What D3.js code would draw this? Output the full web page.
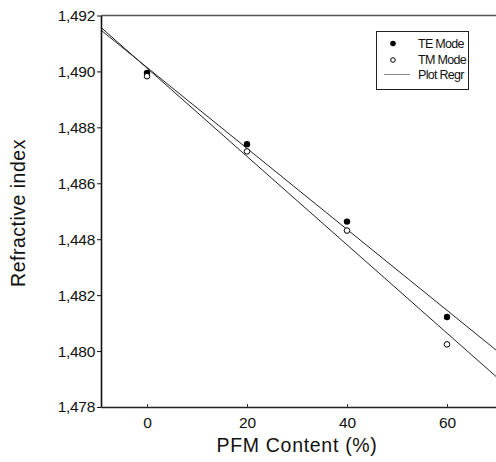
<!DOCTYPE html>
<html><head><meta charset="utf-8">
<script src="https://cdn.jsdelivr.net/npm/d3@7"></script>
<style>
html,body{margin:0;padding:0;background:#fff;}
svg text{font-family:"Liberation Sans",Arial,Helvetica,sans-serif;fill:#111;}
</style></head>
<body><svg id="c" width="496" height="462"></svg>
<script>
const pfm = [0, 20, 40, 60];
const teMode = [1.48995, 1.48740, 1.48463, 1.48122];
const tmMode = [1.48983, 1.48714, 1.48431, 1.48024];
const xTicks = [0, 20, 40, 60];
const yTickValues = [1.478, 1.480, 1.482, 1.484, 1.486, 1.488, 1.490, 1.492];
const yTickLabels = ["1,478", "1,480", "1,482", "1,448", "1,486", "1,488", "1,490", "1,492"];
const legendLabels = ["TE Mode", "TM Mode", "Plot Regr"];

const svg = d3.select("#c");
const x = d3.scaleLinear().domain([-9.2, 70]).range([101, 497]);
const y = d3.scaleLinear().domain([1.478, 1.492]).range([407, 15.5]);

function regress(xs, ys) {
  const mx = d3.mean(xs), my = d3.mean(ys);
  const sxy = d3.sum(xs, (v, i) => (v - mx) * (ys[i] - my));
  const sxx = d3.sum(xs, v => (v - mx) * (v - mx));
  const b = sxy / sxx, a = my - b * mx;
  return v => a + b * v;
}

// regression lines
svg.append("clipPath").attr("id", "pc").append("rect")
  .attr("x", 101).attr("y", 15.5).attr("width", 396).attr("height", 392);
const line = d3.line().x(d => x(d[0])).y(d => y(d[1]));
[teMode, tmMode].forEach(ser => {
  const f = regress(pfm, ser);
  const dom = x.domain();
  svg.append("path").attr("clip-path", "url(#pc)")
    .attr("d", line([[dom[0], f(dom[0])], [dom[1], f(dom[1])]]))
    .attr("fill", "none").attr("stroke", "#222").attr("stroke-width", 1);
});

// top border
svg.append("line").attr("x1", 101).attr("x2", 496).attr("y1", 15.5).attr("y2", 15.5)
  .attr("stroke", "#555").attr("stroke-width", 1.3);

// y axis
const yAxis = d3.axisLeft(y).tickValues(yTickValues)
  .tickFormat((d, i) => yTickLabels[i]).tickSize(4).tickSizeOuter(0).tickPadding(2);
const gy = svg.append("g").attr("transform", "translate(101,0)").call(yAxis);
gy.select(".domain").attr("stroke", "#111").attr("stroke-width", 1.6);
gy.selectAll(".tick line").attr("stroke", "#111");
gy.selectAll("text").style("font-size", "15.5px").style("letter-spacing", "-0.3px").attr("fill", "#111");

// x axis
const xAxis = d3.axisBottom(x).tickValues(xTicks).tickSize(-3).tickSizeOuter(0).tickPadding(10);
const gx = svg.append("g").attr("transform", "translate(0,407)").call(xAxis);
gx.select(".domain").attr("stroke", "#222").attr("stroke-width", 1.6);
gx.selectAll(".tick line").attr("stroke", "#333");
gx.selectAll("text").style("font-size", "15.5px").attr("fill", "#111");

// points
svg.selectAll(".te").data(pfm).enter().append("circle")
  .attr("cx", d => x(d)).attr("cy", (d, i) => y(teMode[i])).attr("r", 3.2).attr("fill", "#000");
svg.selectAll(".tm").data(pfm).enter().append("circle")
  .attr("cx", d => x(d)).attr("cy", (d, i) => y(tmMode[i])).attr("r", 2.8)
  .attr("fill", "#fff").attr("stroke", "#000").attr("stroke-width", 1);

// axis titles
svg.append("text").attr("x", 297).attr("y", 452).attr("text-anchor", "middle")
  .style("font-size", "19.5px").style("letter-spacing", "0.7px").text("PFM Content (%)");
svg.append("text").attr("transform", "translate(25,213) rotate(-90)").attr("text-anchor", "middle")
  .style("font-size", "19.5px").style("letter-spacing", "0.5px").text("Refractive index");

// legend
const lg = svg.append("g");
lg.append("rect").attr("x", 376.5).attr("y", 31.5).attr("width", 92).attr("height", 58)
  .attr("fill", "#fff").attr("stroke", "#222").attr("stroke-width", 1);
lg.append("circle").attr("cx", 393).attr("cy", 43.5).attr("r", 2.8).attr("fill", "#000");
lg.append("circle").attr("cx", 393).attr("cy", 60).attr("r", 2.3).attr("fill", "#fff")
  .attr("stroke", "#000").attr("stroke-width", 1);
lg.append("line").attr("x1", 384).attr("x2", 410).attr("y1", 74.5).attr("y2", 74.5)
  .attr("stroke", "#888").attr("stroke-width", 1);
[47.5, 64, 78.5].forEach((yy, i) => {
  lg.append("text").attr("x", 418).attr("y", yy).style("font-size", "12.5px")
    .style("letter-spacing", "-0.7px").text(legendLabels[i]);
});
</script></body></html>
